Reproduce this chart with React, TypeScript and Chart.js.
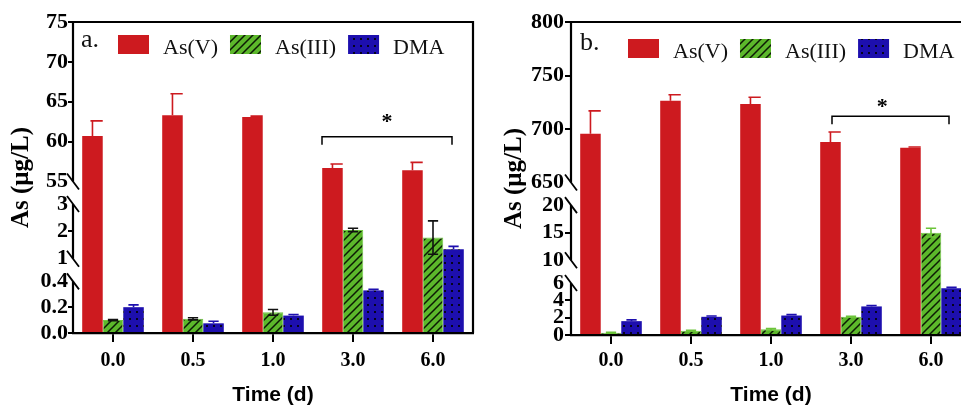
import React, { useEffect, useRef } from 'react';
import { Chart, registerables, LinearScale } from 'chart.js';

// ---------------- data ----------------
const categories = ['0.0', '0.5', '1.0', '3.0', '6.0'];
const seriesLabels = ['As(V)', 'As(III)', 'DMA'];
const xTitle = 'Time (d)';
const yTitle = 'As (μg/L)';

// panel a
const asV_a = [60.7, 63.3, 63.1, 56.7, 56.4];
const asV_a_err = [1.9, 2.7, 0.1, 0.5, 1.0];
const asIII_a = [0.1, 0.11, 0.16, 2.05, 1.77];
const asIII_a_err = [0.004, 0.008, 0.022, 0.06, 0.61];
const dma_a = [0.2, 0.075, 0.135, 0.33, 1.34];
const dma_a_err = [0.018, 0.016, 0.008, 0.008, 0.11];
const yTicks_a = [0, 0.2, 0.4, 1, 2, 3, 55, 60, 65, 70, 75];
const yTickLabels_a = ['0.0', '0.2', '0.4', '1', '2', '3', '55', '60', '65', '70', '75'];
const yRanges_a = [[0, 0.4], [1, 3], [55, 75]];
const bracketValue_a = 60.6;

// panel b
const asV_b = [695.5, 726.5, 723.4, 687.8, 682.6];
const asV_b_err = [21.5, 5.6, 6.3, 9.4, 0.6];
const asIII_b = [0.25, 0.5, 0.65, 2.1, 15.0];
const asIII_b_err = [0.05, 0.05, 0.1, 0.05, 0.8];
const dma_b = [1.6, 2.1, 2.25, 3.3, 5.4];
const dma_b_err = [0.15, 0.1, 0.1, 0.1, 0.1];
const yTicks_b = [0, 2, 4, 6, 10, 15, 20, 650, 700, 750, 800];
const yTickLabels_b = ['0', '2', '4', '6', '10', '15', '20', '650', '700', '750', '800'];
const yRanges_b = [[0, 6], [10, 20], [650, 800]];
const bracketValue_b = 712;

// --------------- styling / layout ---------------
const RED = '#cd1a1f';
const GREEN = '#5cb82b';
const BLUE = '#1d0fae';
const SERIF = "'Liberation Serif', 'Times New Roman', serif";
const SANS = "'Liberation Sans', Arial, sans-serif";
const segFracs = [[0, 0.166], [0.239, 0.415], [0.487, 1]];

type Seg = { min: number; max: number; from: number; to: number };

class BrokenLinearScale extends LinearScale {
  static id = 'brokenLinear';
  static defaults = {};

  _segs(): Seg[] {
    return (this.options as any).segments as Seg[];
  }

  buildTicks() {
    const segs = this._segs();
    this.min = segs[0].min;
    this.max = segs[segs.length - 1].max;
    const vals = (this.options as any).tickValues as number[];
    const out: any[] = [];
    for (let i = 0; i < vals.length; i++) out.push({ value: vals[i] });
    return out;
  }

  _frac(value: number) {
    const segs = this._segs();
    const n = segs.length;
    for (let i = 0; i < n; i++) {
      const s = segs[i];
      if (value <= s.max || i === n - 1) {
        if (value >= s.min || i === 0) {
          return s.from + ((value - s.min) / (s.max - s.min)) * (s.to - s.from);
        }
        const p = segs[i - 1];
        return p.to + ((value - p.max) / (s.min - p.max)) * (s.from - p.to);
      }
    }
    return 0;
  }

  getPixelForValue(value: any) {
    if (value === null || value === undefined || Number.isNaN(value)) return NaN;
    return this.bottom - this._frac(value) * (this.bottom - this.top);
  }

  getValueForPixel(pixel: number) {
    const segs = this._segs();
    const f = (this.bottom - pixel) / (this.bottom - this.top);
    for (let i = 0; i < segs.length; i++) {
      const s = segs[i];
      if (f <= s.to || i === segs.length - 1) {
        return s.min + ((f - s.from) / (s.to - s.from)) * (s.max - s.min);
      }
    }
    return 0;
  }

  drawBorder() {
    const ctx = this.ctx;
    const segs = this._segs();
    const x = this.right;
    ctx.save();
    ctx.strokeStyle = '#000';
    ctx.lineWidth = 2.2;
    ctx.lineCap = 'butt';
    ctx.beginPath();
    for (let i = 0; i < segs.length; i++) {
      const y1 = this.getPixelForValue(segs[i].min);
      const y2 = this.getPixelForValue(segs[i].max);
      ctx.moveTo(x, y1 + (i === 0 ? 1 : 0));
      ctx.lineTo(x, y2 - (i === segs.length - 1 ? 1 : 0));
    }
    ctx.stroke();
    ctx.lineWidth = 1.8;
    ctx.beginPath();
    for (let i = 0; i < segs.length; i++) {
      if (i > 0) {
        const y = this.getPixelForValue(segs[i].min);
        ctx.moveTo(x - 6, y - 8);
        ctx.lineTo(x + 6, y + 8);
      }
      if (i < segs.length - 1) {
        const y = this.getPixelForValue(segs[i].max);
        ctx.moveTo(x - 6, y - 8);
        ctx.lineTo(x + 6, y + 8);
      }
    }
    ctx.stroke();
    ctx.restore();
  }
}

Chart.register(...registerables, BrokenLinearScale);

function makeHatch(): CanvasPattern | string {
  const c = document.createElement('canvas');
  c.width = 8;
  c.height = 8;
  const g = c.getContext('2d');
  if (!g) return GREEN;
  g.fillStyle = GREEN;
  g.fillRect(0, 0, 8, 8);
  g.strokeStyle = '#0c1a05';
  g.lineWidth = 1.5;
  g.beginPath();
  g.moveTo(0, 8);
  g.lineTo(8, 0);
  g.moveTo(-2, 2);
  g.lineTo(2, -2);
  g.moveTo(6, 10);
  g.lineTo(10, 6);
  g.stroke();
  return g.createPattern(c, 'repeat') || GREEN;
}

function makeDots(): CanvasPattern | string {
  const c = document.createElement('canvas');
  c.width = 7;
  c.height = 7;
  const g = c.getContext('2d');
  if (!g) return BLUE;
  g.fillStyle = BLUE;
  g.fillRect(0, 0, 7, 7);
  g.fillStyle = '#05031c';
  g.fillRect(3, 3, 2, 2);
  return g.createPattern(c, 'repeat') || BLUE;
}

type PanelCfg = {
  letter: string;
  canvasLeft: number;
  canvasWidth: number;
  yWidth: number;
  padRight: number;
  xHeight: number;
  yTitlePad: number;
  yTickLen: number;
  yTickPad: number;
  xTickPad: number;
  series: number[][];
  errors: number[][];
  greenErrColor: string;
  yTicks: number[];
  yTickLabels: string[];
  yRanges: number[][];
  bracketValue: number;
  bracketDxL: number;
  bracketDxR: number;
  starFrac: number;
  starDy: number;
  letterDx: number;
  letterBaseline: number;
  boxDx: number;
  boxTop: number;
  textBaseline: number;
};

const panelA: PanelCfg = {
  letter: 'a.',
  canvasLeft: 0,
  canvasWidth: 480,
  yWidth: 73,
  padRight: 7,
  xHeight: 77,
  yTitlePad: 7,
  yTickLen: 5,
  yTickPad: 0,
  xTickPad: 7,
  series: [asV_a, asIII_a, dma_a],
  errors: [asV_a_err, asIII_a_err, dma_a_err],
  greenErrColor: '#111',
  yTicks: yTicks_a,
  yTickLabels: yTickLabels_a,
  yRanges: yRanges_a,
  bracketValue: bracketValue_a,
  bracketDxL: -31,
  bracketDxR: 19,
  starFrac: 0.5,
  starDy: 19,
  letterDx: 8,
  letterBaseline: 47,
  boxDx: 45,
  boxTop: 35,
  textBaseline: 54,
};

const panelB: PanelCfg = {
  letter: 'b.',
  canvasLeft: 480,
  canvasWidth: 500,
  yWidth: 91,
  padRight: 9,
  xHeight: 75,
  yTitlePad: 20,
  yTickLen: 6,
  yTickPad: 1,
  xTickPad: 5,
  series: [asV_b, asIII_b, dma_b],
  errors: [asV_b_err, asIII_b_err, dma_b_err],
  greenErrColor: '#6cc43a',
  yTicks: yTicks_b,
  yTickLabels: yTickLabels_b,
  yRanges: yRanges_b,
  bracketValue: bracketValue_b,
  bracketDxL: -19,
  bracketDxR: 18,
  starFrac: 0.43,
  starDy: 13,
  letterDx: 9,
  letterBaseline: 50,
  boxDx: 57,
  boxTop: 39,
  textBaseline: 58,
};

function buildConfig(p: PanelCfg): any {
  const hatch = makeHatch();
  const dots = makeDots();
  const fills = [RED, hatch, dots];
  const errColors = [RED, p.greenErrColor, BLUE];
  const capModes = ['right', 'center', 'center'];
  const errDown = [false, true, false];
  const segments: Seg[] = p.yRanges.map((r, i) => ({ min: r[0], max: r[1], from: segFracs[i][0], to: segFracs[i][1] }));
  const breakVals: number[] = [];
  p.yRanges.forEach((r, i) => {
    if (i > 0) breakVals.push(r[0]);
    if (i < p.yRanges.length - 1) breakVals.push(r[1]);
  });

  const datasets = seriesLabels.map((label, i) => ({
    label,
    data: p.series[i],
    backgroundColor: fills[i],
    borderWidth: i === 1 ? 1 : 0,
    borderColor: i === 1 ? '#72c943' : 'rgba(0,0,0,0)',
    errors: p.errors[i],
    errColor: errColors[i],
    capMode: capModes[i],
    errDown: errDown[i],
  }));

  const overlay = {
    id: 'overlay_' + p.letter,
    afterDatasetsDraw(chart: any) {
      const ctx = chart.ctx;
      const y = chart.scales.y;
      chart.data.datasets.forEach((ds: any, di: number) => {
        const meta = chart.getDatasetMeta(di);
        meta.data.forEach((bar: any, i: number) => {
          const v = ds.data[i];
          const e = ds.errors[i];
          const props = bar.getProps(['x', 'width'], true);
          const x = props.x;
          const w = props.width;
          const yTop = y.getPixelForValue(v + e);
          const yVal = y.getPixelForValue(v);
          const yBot = y.getPixelForValue(v - e);
          ctx.save();
          ctx.strokeStyle = ds.errColor;
          ctx.lineWidth = 1.6;
          ctx.beginPath();
          ctx.moveTo(x, ds.errDown ? yBot : yVal);
          ctx.lineTo(x, yTop);
          if (ds.capMode === 'right') {
            ctx.moveTo(x - 2, yTop);
            ctx.lineTo(x + w / 2, yTop);
          } else {
            ctx.moveTo(x - w / 4, yTop);
            ctx.lineTo(x + w / 4, yTop);
            if (ds.errDown) {
              ctx.moveTo(x - w / 4, yBot);
              ctx.lineTo(x + w / 4, yBot);
            }
          }
          ctx.stroke();
          ctx.restore();
        });
      });
    },
    afterDraw(chart: any) {
      const ctx = chart.ctx;
      const area = chart.chartArea;
      const xs = chart.scales.x;
      const ys = chart.scales.y;
      ctx.save();
      // frame top + right
      ctx.strokeStyle = '#000';
      ctx.lineWidth = 2.2;
      ctx.beginPath();
      ctx.moveTo(area.left - 1, area.top);
      ctx.lineTo(area.right, area.top);
      ctx.lineTo(area.right, area.bottom);
      ctx.stroke();

      // bracket + star
      const bx1 = xs.getPixelForValue(3) + p.bracketDxL;
      const bx2 = xs.getPixelForValue(4) + p.bracketDxR;
      const by = ys.getPixelForValue(p.bracketValue);
      ctx.lineWidth = 1.5;
      ctx.beginPath();
      ctx.moveTo(bx1, by + 8);
      ctx.lineTo(bx1, by);
      ctx.lineTo(bx2, by);
      ctx.lineTo(bx2, by + 8);
      ctx.stroke();
      ctx.fillStyle = '#000';
      ctx.font = `bold 22px ${SERIF}`;
      ctx.textAlign = 'center';
      ctx.textBaseline = 'middle';
      ctx.fillText('*', bx1 + (bx2 - bx1) * p.starFrac, by - p.starDy + 4);

      // panel letter + legend
      ctx.textAlign = 'left';
      ctx.textBaseline = 'alphabetic';
      ctx.font = `26px ${SERIF}`;
      ctx.fillStyle = '#111';
      ctx.fillText(p.letter, area.left + p.letterDx, p.letterBaseline);
      ctx.font = `22px ${SERIF}`;
      let lx = area.left + p.boxDx;
      chart.data.datasets.forEach((ds: any) => {
        ctx.fillStyle = ds.backgroundColor;
        ctx.fillRect(lx, p.boxTop, 31, 19);
        lx += 31 + 14;
        ctx.fillStyle = '#111';
        ctx.fillText(ds.label, lx, p.textBaseline);
        lx += ctx.measureText(ds.label).width + 12;
      });
      ctx.restore();
    },
  };

  return {
    type: 'bar',
    data: { labels: categories, datasets },
    options: {
      responsive: false,
      animation: false,
      devicePixelRatio: 1,
      events: [],
      layout: { padding: { left: 0, right: p.padRight, top: 22, bottom: 0 } },
      datasets: { bar: { categoryPercentage: 0.77, barPercentage: 1 } },
      plugins: { legend: { display: false }, tooltip: { enabled: false } },
      scales: {
        x: {
          type: 'category',
          offset: true,
          grid: { offset: false, drawOnChartArea: false, color: '#000', lineWidth: 2, tickLength: 9 },
          border: { color: '#000', width: 2.2 },
          ticks: { color: '#000', font: { family: SERIF, size: 20, weight: 'bold' }, padding: p.xTickPad, autoSkip: false, maxRotation: 0 },
          title: { display: true, text: xTitle, color: '#000', font: { family: SANS, size: 21, weight: 'bold' }, padding: { top: 0, bottom: 2 } },
          afterFit: (s: any) => { s.height = p.xHeight; },
        },
        y: {
          type: 'brokenLinear',
          segments,
          tickValues: p.yTicks,
          grid: {
            drawOnChartArea: false,
            lineWidth: 2,
            tickLength: p.yTickLen,
            color: (c: any) => (c.tick && breakVals.indexOf(c.tick.value) >= 0 ? 'rgba(0,0,0,0)' : '#000'),
          },
          border: { display: true, color: '#000', width: 2.2 },
          ticks: {
            color: '#000',
            font: { family: SERIF, size: 22, weight: 'bold' },
            padding: p.yTickPad,
            autoSkip: false,
            callback: (_v: any, i: number) => p.yTickLabels[i],
          },
          title: { display: true, text: yTitle, color: '#000', font: { family: SERIF, size: 25, weight: 'bold' }, padding: { top: p.yTitlePad, bottom: 0 } },
          afterFit: (s: any) => { s.width = p.yWidth; },
        },
      },
    },
    plugins: [overlay],
  };
}

function Panel({ cfg }: { cfg: PanelCfg }) {
  const ref = useRef<HTMLCanvasElement>(null);
  useEffect(() => {
    if (!ref.current) return;
    const chart = new Chart(ref.current, buildConfig(cfg));
    return () => chart.destroy();
  }, [cfg]);
  return (
    <canvas
      ref={ref}
      width={cfg.canvasWidth}
      height={410}
      style={{ position: 'absolute', left: cfg.canvasLeft, top: 0, width: cfg.canvasWidth, height: 410 }}
    />
  );
}

export default function App() {
  return (
    <div style={{ position: 'fixed', left: 0, top: 0, width: 961, height: 410, overflow: 'hidden', background: '#fff' }}>
      <Panel cfg={panelA} />
      <Panel cfg={panelB} />
    </div>
  );
}
